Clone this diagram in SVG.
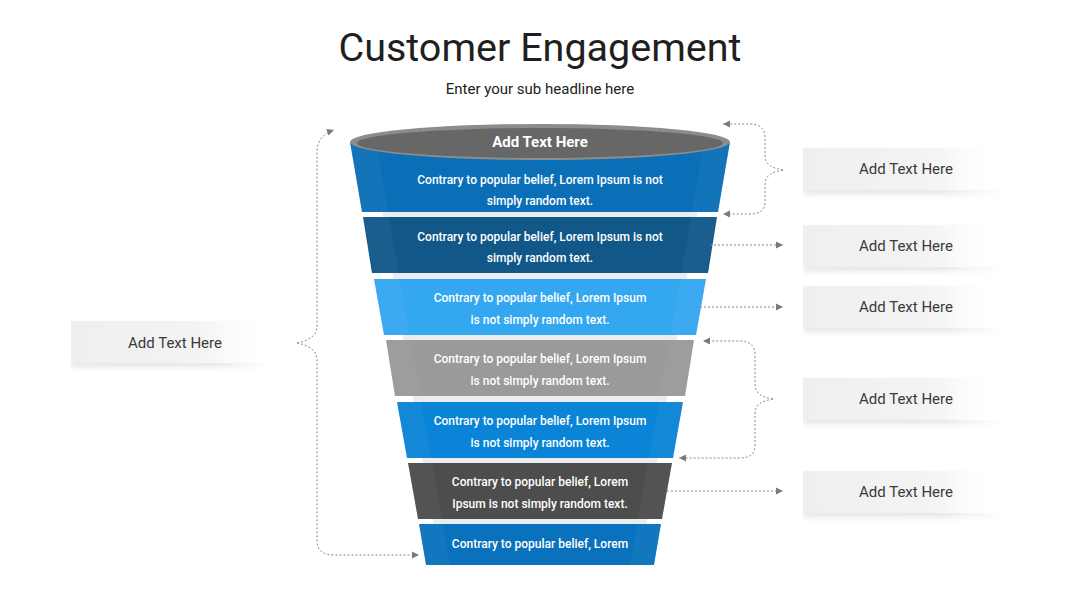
<svg xmlns="http://www.w3.org/2000/svg" width="1080" height="608" viewBox="0 0 1080 608">
<defs>
<style>
.title{font-family:Roboto,"Liberation Sans",sans-serif;font-size:39.5px;fill:#1f1f1f;text-anchor:middle}
.sub{font-family:Roboto,"Liberation Sans",sans-serif;font-size:15px;fill:#222;text-anchor:middle}
.bt{font-family:Roboto,"Liberation Sans",sans-serif;font-size:12px;font-weight:500;fill:#fff;text-anchor:middle}
.lbl{font-family:Roboto,"Liberation Sans",sans-serif;font-size:15px;fill:#3a3a3a;text-anchor:middle}
.top{font-family:Roboto,"Liberation Sans",sans-serif;font-size:15px;font-weight:700;fill:#fff;text-anchor:middle}
.con{fill:none;stroke:#8a8a8a;stroke-width:1;stroke-dasharray:2 2;marker-end:url(#ah)}
.box{fill:url(#bg);filter:url(#sh);mask:url(#fade)}
</style>
<marker id="ah" markerWidth="8" markerHeight="8" refX="7" refY="4" orient="auto" markerUnits="userSpaceOnUse">
<path d="M0,0.5 L7,4 L0,7.5 z" fill="#7a7a7a"/>
</marker>
<linearGradient id="bg" x1="0" y1="0" x2="1" y2="0">
<stop offset="0" stop-color="#efefef"/>
<stop offset="0.6" stop-color="#f3f3f3"/>
<stop offset="1" stop-color="#ffffff"/>
</linearGradient>
<linearGradient id="fg" x1="0" y1="0" x2="1" y2="0">
<stop offset="0" stop-color="#fff"/>
<stop offset="0.7" stop-color="#fff"/>
<stop offset="1" stop-color="#000"/>
</linearGradient>
<mask id="fade" maskUnits="objectBoundingBox" maskContentUnits="objectBoundingBox" x="-0.1" y="-0.5" width="1.2" height="2">
<rect x="0" y="-0.5" width="1" height="2" fill="url(#fg)"/>
</mask>
<filter id="sh" x="-10%" y="-30%" width="120%" height="170%">
<feDropShadow dx="0" dy="4" stdDeviation="3" flood-color="#000" flood-opacity="0.1"/>
</filter>
<clipPath id="fc">
<polygon points="350,142 730,142 718,212 362,212"/>
<polygon points="363,217 717,217 708,273 372,273"/>
<polygon points="374,279 706,279 696,335 384,335"/>
<polygon points="386,340 694,340 685,396 395,396"/>
<polygon points="397,402 683,402 673,458 407,458"/>
<polygon points="408,463 672,463 662,519 418,519"/>
<polygon points="419,524 661,524 654,565 426,565"/>
</clipPath>
</defs>
<rect width="1080" height="608" fill="#fff"/>
<text class="title" x="540" y="61">Customer Engagement</text>
<text class="sub" x="540" y="94">Enter your sub headline here</text>

<g id="funnel-back">
<polygon points="371,142 709,142 640,565 440,565" fill="#e9edf1"/>
</g>
<g id="band1">
<polygon points="350,142 730,142 718,212 362,212" fill="#0b6fb8"/>
<text class="bt" x="540" y="184">Contrary to popular belief, Lorem Ipsum is not</text>
<text class="bt" x="540" y="205">simply random text.</text>
</g>
<g id="band2">
<polygon points="363,217 717,217 708,273 372,273" fill="#115889"/>
<text class="bt" x="540" y="241">Contrary to popular belief, Lorem Ipsum is not</text>
<text class="bt" x="540" y="262">simply random text.</text>
</g>
<g id="band3">
<polygon points="374,279 706,279 696,335 384,335" fill="#34a7f1"/>
<text class="bt" x="540" y="302">Contrary to popular belief, Lorem Ipsum</text>
<text class="bt" x="540" y="324">is not simply random text.</text>
</g>
<g id="band4">
<polygon points="386,340 694,340 685,396 395,396" fill="#9a9a9a"/>
<text class="bt" x="540" y="363">Contrary to popular belief, Lorem Ipsum</text>
<text class="bt" x="540" y="385">is not simply random text.</text>
</g>
<g id="band5">
<polygon points="397,402 683,402 673,458 407,458" fill="#0a84d6"/>
<text class="bt" x="540" y="425">Contrary to popular belief, Lorem Ipsum</text>
<text class="bt" x="540" y="447">is not simply random text.</text>
</g>
<g id="band6">
<polygon points="408,463 672,463 662,519 418,519" fill="#4d4d4d"/>
<text class="bt" x="540" y="486">Contrary to popular belief, Lorem</text>
<text class="bt" x="540" y="508">Ipsum is not simply random text.</text>
</g>
<g id="band7">
<polygon points="419,524 661,524 654,565 426,565" fill="#0a72bd"/>
<text class="bt" x="540" y="548">Contrary to popular belief, Lorem</text>
</g>
<g id="shading" clip-path="url(#fc)">
<polygon points="350,142 376,142 450,565 426,565" fill="#fff" opacity="0.04"/>
<polygon points="704,142 730,142 654,565 630,565" fill="#fff" opacity="0.04"/>
</g>
<g id="rim">
<ellipse cx="540" cy="142" rx="190" ry="18" fill="#8c8c8c"/>
<ellipse cx="540" cy="143" rx="183" ry="15" fill="#676767"/>
<text class="top" x="540" y="147">Add Text Here</text>
</g>

<g id="connectors">
<path class="con" d="M783,170 C772,168 765,165 765,155 L765,138 C765,129 760,124 750,124 L723,124"/>
<path class="con" d="M783,170 C772,172 765,175 765,185 L765,202 C765,210 760,214 750,214 L723,214"/>
<path class="con" d="M710,245 L783,245"/>
<path class="con" d="M700,307 L783,307"/>
<path class="con" d="M773,399 C762,397 755,394 755,384 L755,355 C755,346 750,341 740,341 L703,341"/>
<path class="con" d="M773,399 C762,401 755,404 755,414 L755,445 C755,454 750,458 740,458 L679,458"/>
<path class="con" d="M667,491 L783,491"/>
<path class="con" d="M297,343 C308,341 317,336 317,326 L317,152 C317,142 322,134 334,130"/>
<path class="con" d="M297,343 C308,345 317,350 317,360 L317,540 C317,550 322,555 335,555 L419,555"/>
</g>

<g id="box-r1"><rect class="box" x="803" y="148" width="200" height="42"/><text class="lbl" x="906" y="174">Add Text Here</text></g>
<g id="box-r2"><rect class="box" x="803" y="225" width="200" height="42"/><text class="lbl" x="906" y="251">Add Text Here</text></g>
<g id="box-r3"><rect class="box" x="803" y="286" width="200" height="42"/><text class="lbl" x="906" y="312">Add Text Here</text></g>
<g id="box-r4"><rect class="box" x="803" y="378" width="200" height="42"/><text class="lbl" x="906" y="404">Add Text Here</text></g>
<g id="box-r5"><rect class="box" x="803" y="471" width="200" height="42"/><text class="lbl" x="906" y="497">Add Text Here</text></g>
<g id="box-l"><rect class="box" x="71" y="321" width="200" height="42"/><text class="lbl" x="175" y="348">Add Text Here</text></g>
</svg>
